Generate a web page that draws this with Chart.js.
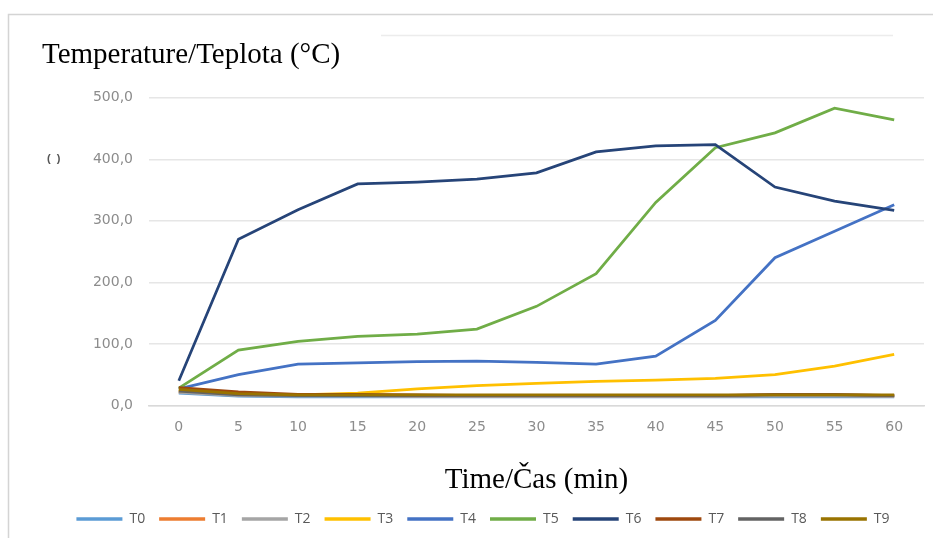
<!DOCTYPE html>
<html>
<head>
<meta charset="utf-8">
<script src="https://cdn.jsdelivr.net/npm/chart.js@4.4.1/dist/chart.umd.min.js"></script>
<style>
  html, body { margin: 0; padding: 0; background: #fff; }
  #wrap { width: 933px; height: 538px; position: relative; }
</style>
</head>
<body>
<div id="wrap"><canvas id="tempChart" width="933" height="538"></canvas></div>
<script>
// time in minutes
const minutes = ['0', '5', '10', '15', '20', '25', '30', '35', '40', '45', '50', '55', '60'];

// readings per thermocouple (°C)
const t0 = [20, 15, 14, 14, 14, 14, 14, 14, 14, 14, 14, 14, 14];
const t1 = [22, 17, 16, 16, 15, 15, 15, 15, 15, 15, 16, 16, 15];
const t2 = [21, 16, 15, 15, 15, 15, 15, 15, 15, 15, 15, 15, 15];
const t3 = [24, 19, 17, 20, 27, 32, 36, 39, 41, 44, 50, 64, 83];
const t4 = [27, 50, 67, 69, 71, 72, 70, 67, 80, 138, 240, 283, 326];
const t5 = [28, 90, 104, 112, 116, 124, 161, 214, 330, 419, 443, 483, 464];
const t6 = [40, 270, 318, 360, 363, 368, 378, 412, 422, 424, 355, 332, 317];
const t7 = [29, 22, 18, 18, 17, 16, 16, 16, 16, 16, 18, 18, 16];
const t8 = [23, 17, 16, 16, 16, 16, 16, 16, 16, 16, 17, 17, 16];
const t9 = [26, 19, 17, 17, 17, 17, 17, 17, 17, 17, 17, 17, 17];

const seriesNames = ['T0', 'T1', 'T2', 'T3', 'T4', 'T5', 'T6', 'T7', 'T8', 'T9'];
const seriesData = [t0, t1, t2, t3, t4, t5, t6, t7, t8, t9];
const seriesColors = ['#5B9BD5', '#ED7D31', '#A5A5A5', '#FFC000', '#4472C4',
                      '#70AD47', '#264478', '#9E480E', '#636363', '#997300'];

const yTicks = [0, 100, 200, 300, 400, 500];

// frame lines and stray marks from the original screenshot
const framePlugin = {
    id: 'frame',
    beforeDraw(chart) {
        const c = chart.ctx;
        c.save();
        c.fillStyle = '#fff';
        c.fillRect(0, 0, chart.width, chart.height);
        c.strokeStyle = '#d4d4d4';
        c.lineWidth = 1.5;
        c.beginPath();
        c.moveTo(8.5, 538);
        c.lineTo(8.5, 14.5);
        c.lineTo(933, 14.5);
        c.stroke();
        c.strokeStyle = '#ececec';
        c.beginPath();
        c.moveTo(381, 35.5);
        c.lineTo(893, 35.5);
        c.stroke();
        c.fillStyle = '#555';
        c.font = 'bold 11px "Liberation Sans"';
        c.fillText('(  )', 47, 159);
        c.restore();
    }
};

const serif = '"Liberation Serif", "Times New Roman", serif';
const sans = '"DejaVu Sans", sans-serif';

document.addEventListener('DOMContentLoaded', function() {
    const ctx = document.getElementById('tempChart').getContext('2d');
    const tempChart = new Chart(ctx, {
        type: 'line',
        data: {
            labels: minutes,
            datasets: seriesNames.map((name, i) => ({
                label: name,
                data: seriesData[i],
                borderColor: seriesColors[i],
                backgroundColor: seriesColors[i],
                borderWidth: 2.75,
                pointRadius: 0,
                pointStyle: 'line',
                tension: 0,
                order: 9 - i
            }))
        },
        options: {
            responsive: false,
            animation: false,
            layout: { padding: { left: 42, right: 9, top: 30, bottom: 2 } },
            plugins: {
                title: {
                    display: true,
                    text: 'Temperature/Teplota (°C)',
                    align: 'start',
                    color: '#000',
                    font: { family: serif, size: 29, weight: 'normal' },
                    padding: { top: 8, bottom: 25 }
                },
                legend: {
                    position: 'bottom',
                    labels: {
                        usePointStyle: true,
                        pointStyle: 'line',
                        pointStyleWidth: 46,
                        color: '#595959',
                        padding: 14,
                        font: { family: '"Open Sans", sans-serif', size: 14 },
                        sort: (a, b) => a.datasetIndex - b.datasetIndex,
                        generateLabels: chart => {
                            const items = Chart.defaults.plugins.legend.labels.generateLabels(chart);
                            items.forEach(it => { it.lineWidth = 3.5; });
                            return items;
                        }
                    }
                },
                tooltip: { enabled: false }
            },
            scales: {
                x: {
                    offset: true,
                    grid: { display: false },
                    border: { color: '#d9d9d9', width: 1.5 },
                    ticks: {
                        color: '#8c8c8c',
                        padding: 6,
                        maxRotation: 0,
                        font: { family: sans, size: 14 }
                    },
                    title: {
                        display: true,
                        text: 'Time/Čas (min)',
                        color: '#000',
                        font: { family: serif, size: 29, weight: 'normal' },
                        padding: { top: 21, bottom: 0 }
                    }
                },
                y: {
                    min: 0,
                    max: 500,
                    afterBuildTicks: scale => { scale.ticks = yTicks.map(v => ({ value: v })); },
                    afterFit: scale => { scale.width = 107; },
                    grid: { color: '#e6e6e6', lineWidth: 1.5, drawTicks: false },
                    border: { display: false },
                    ticks: {
                        color: '#8c8c8c',
                        padding: 16,
                        font: { family: sans, size: 14 },
                        callback: v => v.toFixed(1).replace('.', ',')
                    }
                }
            }
        },
        plugins: [framePlugin]
    });
});
</script>
</body>
</html>
